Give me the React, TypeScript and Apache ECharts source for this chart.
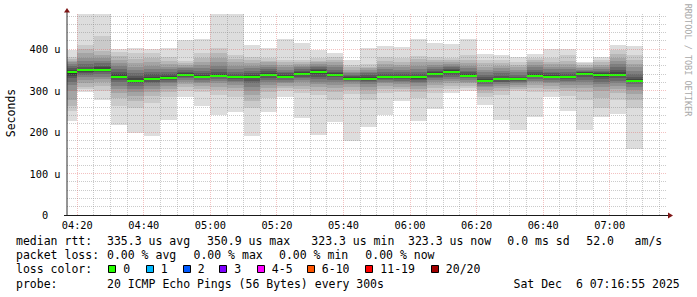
import React, { useEffect, useRef } from "react";
import * as echarts from "echarts";

// ---- data ----
const barTimes = [
  "04:15", "04:20", "04:25", "04:30", "04:35", "04:40", "04:45", "04:50", "04:55",
  "05:00", "05:05", "05:10", "05:15", "05:20", "05:25", "05:30", "05:35", "05:40", "05:45", "05:50", "05:55",
  "06:00", "06:05", "06:10", "06:15", "06:20", "06:25", "06:30", "06:35", "06:40", "06:45", "06:50", "06:55",
  "07:00", "07:05",
];

// median rtt per 5-minute step (microseconds)
const medians = [
  344, 349, 350.9, 333, 324, 329, 331, 338, 334, 336, 332, 334, 339, 334, 341, 345, 339, 329, 329, 332, 332,
  332, 341, 345, 336, 324, 327, 327, 336, 334, 332, 341, 339, 339, 323.3,
];

// 20 sorted ping times per step (microseconds)
const pings = [
  [228, 250, 262, 278, 298, 314, 322, 330, 336, 341, 347, 350, 354, 360, 364, 368, 372, 376, 382, 397],
  [296, 303, 310, 318, 326, 332, 338, 342, 345, 347, 350, 353, 358, 364, 372, 380, 390, 400, 410, 500],
  [278, 298, 312, 320, 328, 334, 340, 345, 348, 350, 352, 356, 360, 366, 372, 378, 386, 396, 432, 500],
  [216, 262, 282, 294, 304, 312, 320, 326, 330, 332, 335, 340, 345, 352, 360, 366, 374, 384, 394, 400],
  [198, 258, 274, 286, 296, 304, 312, 318, 321, 323, 326, 330, 336, 342, 350, 358, 366, 376, 390, 402],
  [190, 270, 286, 296, 304, 312, 318, 322, 326, 328, 330, 334, 340, 346, 352, 360, 368, 378, 390, 400],
  [230, 284, 296, 304, 312, 318, 322, 326, 329, 331, 332, 335, 340, 346, 352, 358, 364, 372, 382, 402],
  [284, 300, 310, 316, 322, 326, 330, 334, 336, 338, 339, 342, 346, 350, 354, 358, 362, 366, 372, 422],
  [264, 296, 304, 312, 318, 322, 326, 330, 332, 334, 335, 338, 342, 348, 354, 362, 370, 380, 392, 425],
  [242, 290, 302, 310, 318, 324, 328, 332, 334, 335, 337, 340, 346, 352, 360, 370, 380, 392, 402, 500],
  [248, 284, 298, 306, 314, 320, 324, 328, 330, 331, 333, 336, 340, 346, 352, 360, 368, 376, 386, 500],
  [190, 258, 276, 290, 300, 310, 318, 324, 330, 333, 335, 338, 342, 348, 354, 360, 366, 374, 382, 410],
  [248, 282, 296, 306, 314, 320, 326, 330, 335, 338, 340, 343, 348, 352, 358, 362, 368, 372, 378, 402],
  [284, 298, 306, 312, 318, 322, 326, 330, 332, 333, 335, 338, 342, 346, 350, 356, 362, 368, 374, 425],
  [233, 294, 304, 312, 320, 326, 330, 334, 338, 340, 342, 345, 348, 352, 356, 360, 364, 368, 374, 416],
  [192, 290, 300, 308, 316, 322, 328, 334, 340, 343, 346, 349, 352, 356, 360, 364, 368, 372, 378, 397],
  [224, 278, 296, 306, 314, 320, 326, 332, 336, 338, 340, 343, 346, 350, 356, 362, 368, 374, 382, 392],
  [178, 292, 302, 310, 316, 320, 324, 326, 328, 329, 330, 332, 335, 338, 342, 346, 350, 356, 362, 373],
  [212, 278, 292, 302, 310, 316, 320, 324, 327, 329, 330, 333, 337, 342, 346, 350, 354, 358, 364, 402],
  [242, 294, 304, 312, 318, 322, 326, 328, 330, 331, 332, 335, 340, 346, 352, 358, 364, 372, 382, 408],
  [274, 296, 304, 310, 316, 320, 324, 328, 330, 331, 333, 336, 340, 345, 350, 356, 362, 370, 378, 405],
  [226, 282, 296, 304, 312, 318, 322, 326, 329, 331, 333, 336, 340, 346, 352, 360, 368, 376, 384, 425],
  [256, 294, 306, 314, 320, 326, 330, 334, 338, 340, 342, 345, 348, 352, 356, 362, 368, 374, 382, 416],
  [294, 304, 312, 318, 324, 328, 334, 338, 342, 344, 346, 349, 352, 356, 360, 364, 368, 374, 380, 413],
  [300, 306, 312, 318, 322, 326, 330, 332, 334, 336, 337, 340, 344, 348, 354, 360, 366, 374, 386, 425],
  [266, 284, 294, 302, 308, 312, 316, 320, 322, 324, 325, 328, 332, 338, 344, 350, 358, 366, 374, 389],
  [230, 290, 300, 306, 312, 316, 320, 322, 325, 326, 328, 331, 336, 342, 348, 354, 360, 366, 374, 386],
  [206, 298, 304, 310, 314, 318, 320, 323, 325, 326, 328, 330, 334, 338, 344, 350, 356, 362, 370, 382],
  [236, 296, 306, 314, 320, 324, 328, 332, 334, 336, 337, 340, 344, 350, 356, 362, 368, 374, 380, 389],
  [284, 296, 304, 312, 318, 322, 326, 330, 332, 334, 335, 338, 342, 346, 352, 358, 364, 370, 378, 400],
  [250, 286, 298, 306, 314, 320, 324, 328, 330, 331, 333, 336, 340, 346, 352, 358, 364, 372, 386, 400],
  [204, 278, 296, 306, 314, 320, 326, 332, 338, 341, 342, 344, 346, 348, 350, 354, 358, 362, 366, 370],
  [236, 258, 282, 298, 308, 316, 322, 328, 334, 338, 340, 342, 345, 348, 352, 356, 362, 368, 374, 382],
  [244, 278, 294, 304, 312, 318, 324, 330, 336, 338, 340, 344, 350, 356, 364, 372, 380, 388, 398, 410],
  [160, 258, 278, 292, 302, 310, 316, 320, 323, 323, 324, 328, 334, 340, 348, 356, 364, 374, 386, 408],
];

const xTickLabels = ["04:20", "04:40", "05:00", "05:20", "05:40", "06:00", "06:20", "06:40", "07:00"];
const yTickValues = [0, 100, 200, 300, 400];
const yTickLabels = ["0", "100 u", "200 u", "300 u", "400 u"];

const legendRtt = [
  { t: "median rtt:", x: 16 },
  { t: "335.3 us avg", x: 107 },
  { t: "350.9 us max", x: 207 },
  { t: "323.3 us min", x: 311.3 },
  { t: "323.3 us now", x: 408 },
  { t: "0.0 ms sd", x: 507.3 },
  { t: "52.0", x: 586.3 },
  { t: "am/s", x: 634.6 },
];
const legendLoss = [
  { t: "packet loss:", x: 16 },
  { t: "0.00 % avg", x: 107 },
  { t: "0.00 % max", x: 193.5 },
  { t: "0.00 % min", x: 279 },
  { t: "0.00 % now", x: 365.3 },
];
const lossLabels = ["0", "1", "2", "3", "4-5", "6-10", "11-19", "20/20"];
const lossColors = ["#26ff00", "#00b8ff", "#0059ff", "#7e00ff", "#ff00ff", "#ff5500", "#ff0000", "#a10000"];
const lossBoxX = [108, 145.5, 182.5, 219, 256.5, 306.5, 365, 430.5];
const probeTexts = [
  { t: "probe:", x: 16 },
  { t: "20 ICMP Echo Pings (56 Bytes) every 300s", x: 107 },
  { t: "Sat Dec", x: 513.5 },
  { t: "6 07:16:55 2025", x: 575.9 },
];

// ---- layout constants ----
const toMin = (s: string) => {
  const [h, m] = s.split(":").map(Number);
  return h * 60 + m;
};
const X_MIN = toMin("04:16") + 55 / 60;
const X_MAX = X_MIN + 180;
const Y_MAX = 485;
const STEP = 5;
const G_LEFT = 67;
const G_TOP = 14;
const G_W = 599;
const G_H = 201;
const MONO = "'DejaVu Sans Mono', monospace";
const GREYS = Array.from({ length: 10 }, (_, j) => {
  const c = Math.floor((190 / 10) * (9 - j)) + 50;
  const h = c.toString(16).padStart(2, "0");
  return "#" + h + h + h;
});

// dotted 1px line made of explicit 1px segments (crisp, deterministic)
const DotLine = echarts.graphic.extendShape({
  shape: { x1: 0, y1: 0, x2: 0, y2: 0 },
  buildPath(ctx: any, shape: any) {
    const { x1, y1, x2, y2 } = shape;
    if (Math.abs(x1 - x2) < 0.01) {
      for (let y = y1; y < y2; y += 2) {
        ctx.moveTo(x1, y);
        ctx.lineTo(x1, Math.min(y + 1, y2));
      }
    } else {
      for (let x = x1; x < x2; x += 2) {
        ctx.moveTo(x, y1);
        ctx.lineTo(Math.min(x + 1, x2), y1);
      }
    }
  },
});
echarts.graphic.registerShape("dotline", DotLine);

export default function App() {
  const ref = useRef<HTMLDivElement>(null);
  useEffect(() => {
    if (!ref.current) return;
    const chart = echarts.init(ref.current, null, { renderer: "svg" });

    const smokeData = barTimes.map((t, i) => [toMin(t), ...pings[i], medians[i]]);

    const minorX: number[] = [];
    for (let t = toMin("04:20"); t < X_MAX; t += 5) minorX.push(t);
    const majorX = xTickLabels.map(toMin);
    const minorY: number[] = [];
    for (let v = 20; v < Y_MAX; v += 20) minorY.push(v);
    const majorY = yTickValues.filter((v) => v > 0);

    const smokeSeries = {
      type: "custom",
      name: "smoke",
      silent: true,
      z: 2,
      encode: { x: 0, y: 21 },
      data: smokeData,
      renderItem: (params: any, api: any) => {
        const cs = params.coordSys;
        const t = api.value(0);
        let x0 = Math.round(api.coord([t, 0])[0]);
        let x1 = Math.round(api.coord([t + STEP, 0])[0]);
        x0 = Math.max(x0, cs.x);
        x1 = Math.min(x1, cs.x + cs.width);
        if (x1 <= x0) return null;
        const yOf = (v: number) => Math.round(Math.max(api.coord([t, v])[1], cs.y));
        const children: any[] = [];
        for (let j = 0; j < 10; j++) {
          const yl = yOf(api.value(1 + j));
          const yh = yOf(api.value(20 - j));
          children.push({
            type: "rect",
            shape: { x: x0, y: yh, width: x1 - x0, height: yl - yh },
            style: { fill: GREYS[j] },
          });
        }
        const ym = Math.round(api.coord([t, api.value(21)])[1]);
        children.push({
          type: "rect",
          shape: { x: x0, y: ym - 1, width: x1 - x0, height: 2 },
          style: { fill: lossColors[0] },
        });
        return { type: "group", children };
      },
    };

    const gridSeries = {
      type: "custom",
      name: "grid",
      silent: true,
      z: 3,
      encode: { x: 0, y: 1 },
      data: [[X_MIN, 0]],
      renderItem: (params: any, api: any) => {
        const cs = params.coordSys;
        const children: any[] = [];
        const top = cs.y;
        const bottom = cs.y + cs.height;
        const left = cs.x;
        const right = cs.x + cs.width;
        const vline = (t: number, color: string) => {
          const x = Math.floor(api.coord([t, 0])[0]) + 0.5;
          children.push({
            type: "dotline",
            shape: { x1: x, y1: top, x2: x, y2: bottom },
            style: { stroke: color, lineWidth: 1, fill: "none" },
          });
        };
        const hline = (v: number, color: string) => {
          const y = Math.floor(api.coord([X_MIN, v])[1]) + 0.5;
          children.push({
            type: "dotline",
            shape: { x1: left, y1: y, x2: right, y2: y },
            style: { stroke: color, lineWidth: 1, fill: "none" },
          });
        };
        const minorC = "rgba(130,130,130,0.42)";
        const majorC = "rgba(225,100,100,0.4)";
        minorX.filter((t) => !majorX.includes(t)).forEach((t) => vline(t, minorC));
        minorY.filter((v) => !majorY.includes(v)).forEach((v) => hline(v, minorC));
        majorX.forEach((t) => vline(t, majorC));
        majorY.forEach((v) => hline(v, majorC));
        return { type: "group", children };
      },
    };

    const graphics: any[] = [];
    // axes
    graphics.push({
      type: "line",
      shape: { x1: G_LEFT, y1: G_TOP + G_H, x2: G_LEFT, y2: 11 },
      style: { stroke: "#2c2c2c", lineWidth: 1 },
      z: 10,
    });
    graphics.push({
      type: "line",
      shape: { x1: G_LEFT - 3, y1: G_TOP + G_H + 0.5, x2: 669, y2: G_TOP + G_H + 0.5 },
      style: { stroke: "#1a1a1a", lineWidth: 1 },
      z: 10,
    });
    graphics.push({
      type: "polygon",
      shape: { points: [[64, 12.5], [70, 12.5], [67, 8]] },
      style: { fill: "#7f1616" },
      z: 11,
    });
    graphics.push({
      type: "polygon",
      shape: { points: [[668, 212.5], [668, 218.5], [673, 215.5]] },
      style: { fill: "#7f1616" },
      z: 11,
    });
    // axis title
    graphics.push({
      type: "text",
      x: 11,
      y: 113,
      rotation: Math.PI / 2,
      style: { text: "Seconds", font: `11.5px ${MONO}`, fill: "#000", align: "center", verticalAlign: "middle" },
    });
    // watermark
    graphics.push({
      type: "text",
      x: 688,
      y: 60,
      rotation: -Math.PI / 2,
      style: {
        text: "RRDTOOL / TOBI OETIKER",
        font: `8.5px ${MONO}`,
        fill: "#a8a8a8",
        align: "center",
        verticalAlign: "middle",
      },
    });
    const legendText = (t: string, x: number, y: number) =>
      graphics.push({
        type: "text",
        x,
        y,
        style: { text: t, font: `11.5px ${MONO}`, fill: "#000", align: "left", verticalAlign: "middle" },
      });
    legendRtt.forEach((d) => legendText(d.t, d.x, 241));
    legendLoss.forEach((d) => legendText(d.t, d.x, 255));
    legendText("loss color:", 16, 269);
    lossLabels.forEach((lab, i) => {
      graphics.push({
        type: "rect",
        shape: { x: Math.round(lossBoxX[i]) + 0.5, y: 265.5, width: 7, height: 7 },
        style: { fill: lossColors[i], stroke: "#000", lineWidth: 1 },
      });
      legendText(lab, lossBoxX[i] + 15.3, 269);
    });
    probeTexts.forEach((d) => legendText(d.t, d.x, 283.5));

    const option: any = {
      animation: false,
      backgroundColor: "#ffffff",
      grid: { left: G_LEFT, top: G_TOP, width: G_W, height: G_H, containLabel: false, outerBoundsMode: "none" },
      xAxis: {
        type: "value",
        min: X_MIN,
        max: X_MAX,
        axisLine: { show: false },
        axisTick: { show: false },
        splitLine: { show: false },
        axisLabel: {
          customValues: xTickLabels.map(toMin),
          formatter: (v: number) => {
            const i = xTickLabels.map(toMin).findIndex((m) => Math.abs(m - v) < 0.01);
            return i >= 0 ? xTickLabels[i] : "";
          },
          fontFamily: MONO,
          fontSize: 10.3,
          color: "#000",
          margin: 5,
        },
      },
      yAxis: {
        type: "value",
        min: 0,
        max: Y_MAX,
        axisLine: { show: false },
        axisTick: { show: false },
        splitLine: { show: false },
        axisLabel: {
          customValues: yTickValues,
          formatter: (v: number) => {
            const i = yTickValues.indexOf(v);
            if (i < 0) return "";
            return v === 0 ? "{z|" + yTickLabels[i] + "}" : yTickLabels[i];
          },
          rich: { z: { fontFamily: MONO, fontSize: 10.3, color: "#000", padding: [0, 12.4, 0, 0] } },
          fontFamily: MONO,
          fontSize: 10.3,
          color: "#000",
          margin: 6.5,
        },
      },
      series: [smokeSeries, gridSeries],
      graphic: graphics,
    };
    chart.setOption(option);
    return () => chart.dispose();
  }, []);
  return (
    <div
      ref={ref}
      style={{ position: "fixed", left: 0, top: 0, width: 697, height: 297, background: "#fff" }}
    />
  );
}
